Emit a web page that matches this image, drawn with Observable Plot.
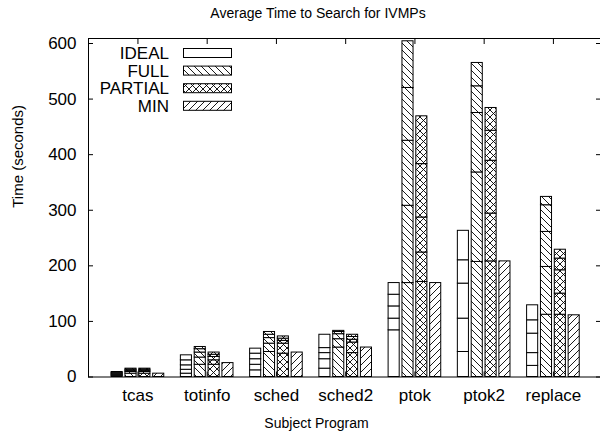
<!DOCTYPE html>
<html><head><meta charset="utf-8">
<script src="https://cdn.jsdelivr.net/npm/d3@7"></script>
<script src="https://cdn.jsdelivr.net/npm/@observablehq/plot@0.6"></script>
<style>
body{margin:0;background:#fff;font-family:"Liberation Sans",Arial,sans-serif;}
#title{position:relative;left:18px;width:600px;height:26px;line-height:26px;text-align:center;font-size:14px;color:#000;}
</style></head><body>
<div id="title">Average Time to Search for IVMPs</div>
<div id="chart"></div>
<script>
const programs = ["tcas", "totinfo", "sched", "sched2", "ptok", "ptok2", "replace"];
const techniques = ["IDEAL", "FULL", "PARTIAL", "MIN"];
// cumulative segment boundaries (seconds)
const idealBounds = [[2,4,5,7,9],[6,13,21,30,39],[12,22,32,42,51],[15,32,43,52,76],[84,105,127,148,169],[45,105,168,210,263],[20,43,78,102,129]];
const fullBounds = [[6,9,11,13,15],[22,35,44,50,54],[45,60,70,76,81],[53,68,77,81,83],[169,308,425,520,604],[207,368,475,523,565],[112,198,261,309,324]];
const partialBounds = [[6,9,11,13,15],[22,30,36,40,44],[42,60,65,69,73],[43,62,67,72,76],[171,224,287,383,469],[208,294,389,443,484],[112,150,192,213,229]];
const minBounds = [[6],[25],[44],[53],[169],[208],[111]];
const yTicks = [0, 100, 200, 300, 400, 500, 600];

const boundsBySeries = {IDEAL: idealBounds, FULL: fullBounds, PARTIAL: partialBounds, MIN: minBounds};
const fills = {IDEAL: "white", FULL: "url(#pFull)", PARTIAL: "url(#pPartial)", MIN: "url(#pMin)"};
const segs = [];
techniques.forEach((t, j) => programs.forEach((p, i) => {
  const b = boundsBySeries[t][i];
  b.forEach((v, k) => segs.push({tech: t, j, i, y1: k ? b[k - 1] : 0, y2: v}));
}));
const step = 0.2, barW = 0.16;
const idx = programs.map((_, i) => i);
const tickFont = 17;

const plot = Plot.plot({
  width: 600, height: 407,
  marginLeft: 88, marginRight: 0, marginTop: 12, marginBottom: 56.5,
  x: {domain: [-0.714, 6.68]},
  y: {domain: [0, 609]},
  style: {fontFamily: "Liberation Sans, Arial, sans-serif", fontSize: "14px", color: "black", background: "white"},
  marks: [
    ...techniques.map(t => Plot.rect(segs.filter(d => d.tech === t), {
      x1: d => d.i + (d.j - 1.5) * step - barW / 2,
      x2: d => d.i + (d.j - 1.5) * step + barW / 2,
      y1: "y1", y2: "y2",
      fill: fills[t], stroke: "black", strokeWidth: 1
    })),
    Plot.frame({stroke: "black"}),
    Plot.axisY({ticks: yTicks, tickSize: -5, tickPadding: 17, label: null, fontSize: tickFont}),
    Plot.axisY({anchor: "right", ticks: yTicks, tickSize: -5, tickFormat: () => "", label: null}),
    Plot.axisX({ticks: idx, tickFormat: i => programs[i], tickSize: -5, tickPadding: 16.5, label: null, fontSize: tickFont}),
    Plot.axisX({anchor: "top", ticks: idx, tickFormat: () => "", tickSize: -5, label: null}),
    Plot.text(["Subject Program"], {frameAnchor: "bottom", dx: -28, dy: 51}),
    Plot.text(["Time (seconds)"], {frameAnchor: "left", dx: -70, rotate: -90, fontSize: 15})
  ]
});

const svg = d3.select(plot);
const defs = svg.insert("defs", ":first-child");
function pat(id, d) {
  const p = defs.append("pattern").attr("id", id).attr("patternUnits", "userSpaceOnUse")
    .attr("width", 7).attr("height", 7);
  p.append("rect").attr("width", 7).attr("height", 7).attr("fill", "white");
  p.append("path").attr("d", d).attr("stroke", "black").attr("stroke-width", 0.9).attr("fill", "none");
}
const back = "M0,0L7,7M-1,6L1,8M6,-1L8,1";
const fwd = "M0,7L7,0M-1,1L1,-1M6,8L8,6";
pat("pFull", back);
pat("pPartial", back + fwd);
pat("pMin", fwd);

// legend (top-left, inside the frame)
const lg = svg.append("g").attr("font-size", tickFont).attr("font-family", "Liberation Sans, Arial, sans-serif");
techniques.forEach((t, k) => {
  const cy = 27 + 17.6 * k;
  lg.append("text").attr("x", 169).attr("y", cy).attr("dy", "0.35em").attr("text-anchor", "end").text(t);
  lg.append("rect").attr("x", 183.5).attr("y", cy - 4.5).attr("width", 48).attr("height", 9)
    .attr("fill", fills[t]).attr("stroke", "black");
});

document.getElementById("chart").appendChild(plot);
</script>
</body></html>
